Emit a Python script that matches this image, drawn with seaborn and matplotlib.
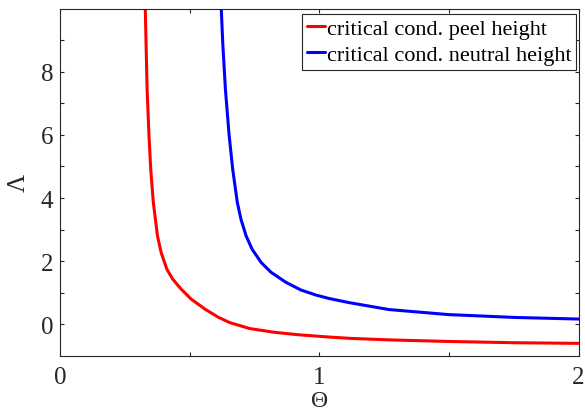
import numpy as np
import pandas as pd
import matplotlib
matplotlib.use("Agg")
import matplotlib.pyplot as plt
import seaborn as sns

# Data
peel_theta = [0.329, 0.332, 0.336, 0.343, 0.350, 0.360, 0.376, 0.390, 0.412, 0.435,
              0.467, 0.506, 0.560, 0.612, 0.654, 0.731, 0.827, 0.923, 1.038, 1.115,
              1.269, 1.5, 1.756, 2.0]
peel_lambda = [10.0, 8.87, 7.45, 6.02, 4.91, 3.86, 2.80, 2.28, 1.75, 1.43,
               1.12, 0.80, 0.48, 0.22, 0.06, -0.13, -0.25, -0.33, -0.40, -0.44,
               -0.49, -0.54, -0.58, -0.60]

neutral_theta = [0.622, 0.628, 0.638, 0.652, 0.666, 0.684, 0.698, 0.718, 0.741, 0.776,
                 0.814, 0.872, 0.929, 0.987, 1.038, 1.115, 1.269, 1.5, 1.756, 2.0]
neutral_lambda = [10.0, 8.87, 7.45, 6.02, 4.92, 3.86, 3.33, 2.80, 2.38, 1.96,
                  1.65, 1.33, 1.09, 0.93, 0.82, 0.69, 0.47, 0.31, 0.22, 0.17]

series_names = ["critical cond. peel height", "critical cond. neutral height"]
series_colors = ["#ff0000", "#0000ff"]

x_ticks = [0, 0.5, 1, 1.5, 2]
x_tick_labels = ["0", "", "1", "", "2"]
y_ticks = list(range(0, 10))
y_tick_labels = [str(v) if v % 2 == 0 else "" for v in y_ticks]

df = pd.concat([
    pd.DataFrame({"theta": peel_theta, "lam": peel_lambda, "series": series_names[0]}),
    pd.DataFrame({"theta": neutral_theta, "lam": neutral_lambda, "series": series_names[1]}),
], ignore_index=True)

sns.set_theme(style="ticks")
plt.rcParams["font.family"] = ["Liberation Serif", "DejaVu Serif"]

fig = plt.figure(figsize=(5.85, 4.14), dpi=100)
ax = fig.add_axes([60 / 585, 1 - 357 / 414, 518.5 / 585, 347.5 / 414])

sns.lineplot(data=df, x="theta", y="lam", hue="series", hue_order=series_names,
             palette=series_colors, linewidth=2.2, sort=False, estimator=None,
             ax=ax, legend=True)

ax.set_xlim(0, 2)
ax.set_ylim(-1, 10)
ax.set_xticks(x_ticks)
ax.set_xticklabels(x_tick_labels)
ax.set_yticks(y_ticks)
ax.set_yticklabels(y_tick_labels)

txt_col = "#262626"
for s in ax.spines.values():
    s.set_visible(True)
    s.set_color(txt_col)
    s.set_linewidth(0.8)
ax.tick_params(direction="in", length=3, width=0.8, colors=txt_col,
               labelsize=18, top=True, right=True)
ax.tick_params(axis="x", pad=7.5)
ax.tick_params(axis="y", pad=5)

ax.set_xlabel("Θ", fontsize=17, color=txt_col)
ax.set_ylabel("Λ", fontsize=18, color=txt_col)
ax.xaxis.set_label_coords(0.5, -0.098)
ax.yaxis.set_label_coords(-0.058, 0.5)

leg = ax.legend(loc="upper right", bbox_to_anchor=(0.995, 0.984), borderaxespad=0,
                fontsize=16, frameon=True, fancybox=False, framealpha=1,
                edgecolor=txt_col, handlelength=0.8, handletextpad=0.1,
                labelspacing=0.25, borderpad=0.2)
leg.get_frame().set_linewidth(0.8)
for line in leg.get_lines():
    line.set_linewidth(2.2)
for t in leg.get_texts():
    t.set_color("black")

fig.savefig("out.png", dpi=100)
